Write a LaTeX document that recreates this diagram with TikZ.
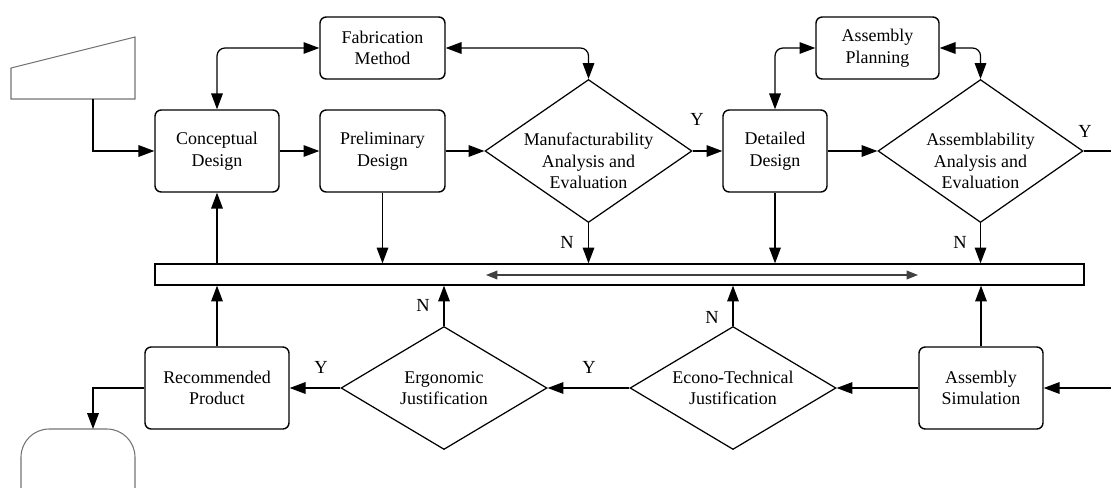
\documentclass[tikz,border=0pt]{standalone}
\usepackage{fontspec}
\setmainfont{Liberation Serif}
\usetikzlibrary{shapes.geometric, arrows.meta}
\begin{document}
\begin{tikzpicture}[x=0.02cm, y=-0.02cm,
  font=\fontsize{10.2}{12.3}\selectfont,
  box/.style={draw, rounded corners=3.5pt, line width=0.8pt, align=center, inner sep=0pt},
  dia/.style={draw, diamond, line width=0.7pt, inner sep=0pt},
  arr/.style={-{Triangle[length=9pt,width=6.6pt]}, line width=0.7pt},
  darr/.style={{Triangle[length=9pt,width=6.6pt]}-{Triangle[length=9pt,width=6.6pt]}, line width=0.7pt, rounded corners=4.5pt},
  lab/.style={font=\fontsize{10.5}{12}\selectfont, inner sep=0pt},
  dtext/.style={align=center, inner sep=0pt},
  ghost/.style={draw=black!55, line width=0.6pt}]
\useasboundingbox (0,0) rectangle (1111,487);
\clip (0,0) rectangle (1111,487);

% boxes
\node[box, minimum width=2.48cm, minimum height=1.64cm] (concept) at (217,151) {Conceptual\\Design};
\node[box, minimum width=2.5cm, minimum height=1.24cm] (fab) at (382.5,48) {Fabrication\\Method};
\node[box, minimum width=2.5cm, minimum height=1.64cm] (prelim) at (382.5,151) {Preliminary\\Design};
\node[box, minimum width=2.08cm, minimum height=1.64cm] (detail) at (775,151) {Detailed\\Design};
\node[box, minimum width=2.46cm, minimum height=1.24cm] (plan) at (877.5,48) {Assembly\\Planning};
\node[box, minimum width=2.88cm, minimum height=1.64cm] (rec) at (217,388) {Recommended\\Product};
\node[box, minimum width=2.48cm, minimum height=1.64cm] (sim) at (981,388) {Assembly\\Simulation};

% diamonds
\node[dia, minimum width=4.14cm, minimum height=2.86cm] (man) at (588.5,151) {};
\node[dtext] (manT) at (588.5,161) {Manufacturability\\Analysis and\\Evaluation};
\node[dia, minimum width=4.1cm, minimum height=2.86cm] (asm) at (980.5,151) {};
\node[dtext] (asmT) at (980.5,161) {Assemblability\\Analysis and\\Evaluation};
\node[dia, minimum width=4.12cm, minimum height=2.46cm] (ergo) at (444,388) {};
\node[dtext] (ergoT) at (444,388) {Ergonomic\\Justification};
\node[dia, minimum width=4.12cm, minimum height=2.46cm] (econo) at (733,388) {};
\node[dtext] (econoT) at (733,388) {Econo-Technical\\Justification};

% bar
\node[draw, line width=0.7pt, minimum width=18.58cm, minimum height=0.42cm, inner sep=0pt] (bar) at (619.5,274.5) {};

% input and terminal shapes
\draw[ghost] (11,68) -- (135,37) -- (135,99) -- (11,99) -- cycle;
\coordinate (in) at (93,99);
\draw[ghost, rounded corners=16pt] (21,429) rectangle (135,520);
\coordinate (out) at (93,429);
\coordinate (rEdge1) at (1111,151);
\coordinate (rEdge2) at (1111,388);
\coordinate (busL) at (486,275);
\coordinate (busR) at (918,275);

% connectors
\draw[arr] (in) |- (concept.west);
\draw[arr] (concept) -- (prelim);
\draw[arr] (prelim) -- (man);
\draw[arr] (man) -- (detail);
\draw[arr] (detail) -- (asm);
\draw[line width=0.7pt] (asm.east) -- (rEdge1);
\draw[darr] (concept.north) |- (fab.west);
\draw[darr] (fab.east) -| (man.north);
\draw[darr] (detail.north) |- (plan.west);
\draw[darr] (plan.east) -| (asm.north);
\draw[arr] (concept.south |- bar.north) -- (concept.south);
\draw[arr] (prelim.south) -- (prelim.south |- bar.north);
\draw[arr] (man.south) -- (man.south |- bar.north);
\draw[arr] (detail.south) -- (detail.south |- bar.north);
\draw[arr] (asm.south) -- (asm.south |- bar.north);
\draw[arr] (rec.north) -- (rec.north |- bar.south);
\draw[arr] (ergo.north) -- (ergo.north |- bar.south);
\draw[arr] (econo.north) -- (econo.north |- bar.south);
\draw[arr] (sim.north) -- (sim.north |- bar.south);
\draw[arr] (rEdge2) -- (sim.east);
\draw[arr] (sim) -- (econo);
\draw[arr] (econo) -- (ergo);
\draw[arr] (ergo) -- (rec);
\draw[arr] (rec.west) -| (out);
\draw[{Triangle[length=6.5pt,width=5pt]}-{Triangle[length=6.5pt,width=5pt]}, line width=0.6pt, draw=black!75, fill=black] (busL) -- (busR);

% labels
\node[lab] (y1) at (697,119) {Y};
\node[lab] (y2) at (1085,131) {Y};
\node[lab] (n1) at (567,242) {N};
\node[lab] (n2) at (960,242) {N};
\node[lab] (n3) at (423,305) {N};
\node[lab] (n4) at (712,317) {N};
\node[lab] (y3) at (589,367) {Y};
\node[lab] (y4) at (321,367) {Y};
\end{tikzpicture}
\end{document}
